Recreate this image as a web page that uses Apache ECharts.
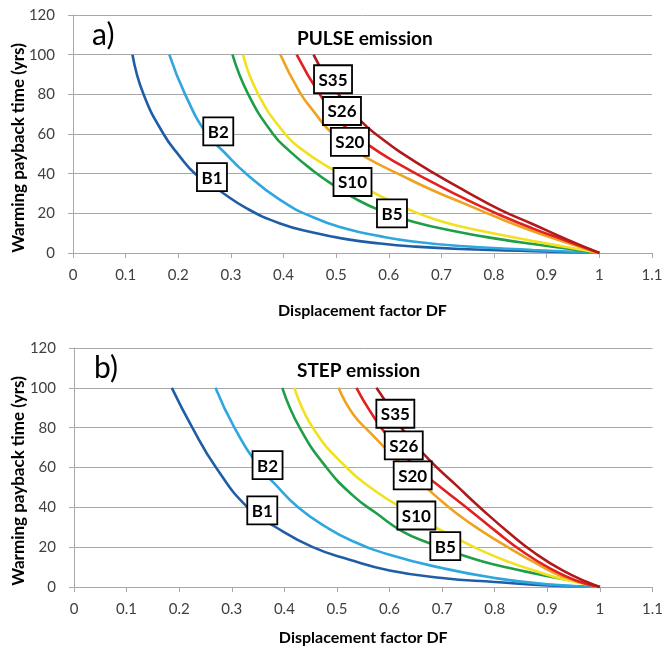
<!DOCTYPE html>
<html><head><meta charset="utf-8">
<script src="https://cdn.jsdelivr.net/npm/echarts@6/dist/echarts.min.js"></script>
<style>html,body{margin:0;padding:0;background:#fff}#c{width:666px;height:648px}</style>
</head><body><div id="c"></div>
<script>
// ---- data ----
const curveNames = ['B1', 'B2', 'B5', 'S10', 'S20', 'S26', 'S35'];

// PULSE emission: [displacement factor, payback time (yrs)]
const pulseB1  = [[0.113,100],[0.134,80],[0.172,60],[0.202,49],[0.232,40],[0.278,31.5],[0.33,22.5],[0.392,15],[0.456,10.3],[0.519,7],[0.583,4.8],[0.646,3.3],[0.735,2],[0.874,0.9],[1,0]];
const pulseB2  = [[0.183,100],[0.213,80],[0.254,60],[0.284,51.7],[0.329,40],[0.392,27],[0.456,18],[0.519,12.2],[0.583,8.5],[0.646,5.8],[0.735,3.5],[0.874,1.5],[1,0]];
const pulseB5  = [[0.303,100],[0.333,80],[0.38,60],[0.411,51.5],[0.456,41.5],[0.5,33.3],[0.532,28],[0.583,21.5],[0.646,15.8],[0.735,10.5],[0.81,7],[0.874,4.5],[0.937,2.3],[1,0]];
const pulseS10 = [[0.323,100],[0.352,80],[0.403,60],[0.436,52],[0.487,43],[0.53,36.5],[0.567,31],[0.633,22.5],[0.684,17.3],[0.735,13.5],[0.81,9.3],[0.874,6],[0.937,3],[1,0]];
const pulseS20 = [[0.394,100],[0.431,81],[0.46,70.5],[0.486,62],[0.52,54.5],[0.558,48],[0.621,39.5],[0.684,31.5],[0.747,24.5],[0.81,17.5],[0.874,11],[0.937,5.3],[1,0]];
const pulseS26 = [[0.425,100],[0.47,79.5],[0.514,64.5],[0.561,54.5],[0.621,44.5],[0.684,35.5],[0.747,27],[0.81,19.3],[0.874,12.3],[0.937,6.2],[1,0]];
const pulseS35 = [[0.457,100],[0.48,89],[0.506,79.5],[0.549,66],[0.59,57],[0.621,51],[0.684,40.5],[0.747,31],[0.81,22],[0.874,14.5],[0.937,7],[1,0]];

// STEP emission
const stepB1  = [[0.186,100],[0.225,80],[0.27,60],[0.33,40],[0.384,30],[0.454,20],[0.524,13.7],[0.6,8.3],[0.7,4.5],[0.8,2.5],[0.9,0.8],[1,0]];
const stepB2  = [[0.269,100],[0.305,80],[0.353,60],[0.381,52],[0.426,40],[0.48,30],[0.53,23],[0.6,16.2],[0.7,9.5],[0.8,4.5],[0.9,1.3],[1,0]];
const stepB5  = [[0.396,100],[0.429,80],[0.48,60],[0.53,46],[0.575,37],[0.625,27.8],[0.676,22],[0.727,17],[0.777,12.8],[0.828,9.5],[0.878,6.7],[0.929,4],[0.967,2.3],[1,0]];
const stepS10 = [[0.419,100],[0.454,80],[0.518,60],[0.575,47.8],[0.625,39.5],[0.68,31],[0.727,24.5],[0.777,18],[0.828,12.5],[0.878,8],[0.929,4],[1,0]];
const stepS20 = [[0.503,100],[0.53,87],[0.565,77],[0.6,67.5],[0.64,57],[0.682,47],[0.727,37],[0.777,27.8],[0.828,19.5],[0.878,12],[0.929,5.3],[1,0]];
const stepS26 = [[0.537,100],[0.562,88.7],[0.6,74.5],[0.651,60],[0.7,49.5],[0.752,38.7],[0.803,27.8],[0.853,17.8],[0.904,9.5],[0.954,3.3],[1,0]];
const stepS35 = [[0.575,100],[0.6,90],[0.625,79],[0.676,63.7],[0.727,51],[0.777,38.7],[0.828,27],[0.878,16.7],[0.929,8.3],[0.98,2],[1,0]];

// label anchor points (data coords) for boxed curve labels
const pulseLabelAt = [[0.264,38.3],[0.276,61.3],[0.606,20],[0.531,35.8],[0.526,56],[0.511,71.6],[0.494,87.6]];
const stepLabelAt  = [[0.358,38.5],[0.368,61.2],[0.706,20.5],[0.651,35.9],[0.644,56],[0.627,71.1],[0.611,87]];

const panelTags = ['a)', 'b)'];
const panelTitles = ['PULSE emission', 'STEP emission'];
const xTitle = 'Displacement factor DF';
const yTitle = 'Warming payback time (yrs)';

// ---- styling ----
const colors = ['#1f5ea6', '#2ea6de', '#1f9e48', '#f2e11e', '#f0a11e', '#e2201f', '#b01a1c'];
const FONT = 'Lato';
const GRID_C = '#a8a8a8';

const pulseData = [pulseB1, pulseB2, pulseB5, pulseS10, pulseS20, pulseS26, pulseS35];
const stepData = [stepB1, stepB2, stepB5, stepS10, stepS20, stepS26, stepS35];

function xAxisCfg(gi) {
  return {
    type: 'value', gridIndex: gi, min: 0, max: 1.1, interval: 0.1,
    axisLine: { show: true, onZero: false, lineStyle: { color: GRID_C, width: 1 } },
    axisTick: { show: true, length: 5, lineStyle: { color: GRID_C } },
    axisLabel: { fontFamily: FONT, fontSize: 15, color: '#404040', margin: 15,
      formatter: v => String(+v.toFixed(1)) },
    splitLine: { show: false },
    name: xTitle, nameLocation: 'middle', nameGap: gi === 0 ? 50 : 43, nameMoveOverlap: false,
    nameTextStyle: { fontFamily: FONT, fontWeight: 'bold', fontSize: 16, color: '#000', lineHeight: 16 }
  };
}
function yAxisCfg(gi) {
  return {
    type: 'value', gridIndex: gi, min: 0, max: 120, interval: 20,
    axisLine: { show: true, lineStyle: { color: GRID_C, width: 1 } },
    axisTick: { show: true, length: 5, lineStyle: { color: GRID_C } },
    axisLabel: { fontFamily: FONT, fontSize: 15, color: '#404040', margin: 18 },
    splitLine: { show: true, lineStyle: { color: GRID_C, width: 1 } }
  };
}

function renderLabelBox(params, api) {
  const p = api.coord([api.value(0), api.value(1)]);
  const txt = curveNames[params.dataIndex];
  const w = txt.length === 2 ? 30 : 38, h = 28;
  return {
    type: 'group', x: p[0], y: p[1],
    children: [
      { type: 'rect', shape: { x: -w / 2, y: -h / 2, width: w, height: h },
        style: { fill: '#fff', stroke: '#000', lineWidth: 1.8 } },
      { type: 'text', x: 0, y: 1,
        style: { text: txt, font: 'bold 17px ' + FONT, fill: '#000', align: 'center', verticalAlign: 'middle' } }
    ]
  };
}

const series = [];
[pulseData, stepData].forEach((set, gi) => {
  set.forEach((d, i) => {
    series.push({
      type: 'line', name: curveNames[i], xAxisIndex: gi, yAxisIndex: gi,
      data: d, smooth: 0.5, showSymbol: false, symbol: 'none',
      lineStyle: { color: colors[i], width: 2.6 }, itemStyle: { color: colors[i] },
      z: 2 + i
    });
  });
  series.push({
    type: 'custom', xAxisIndex: gi, yAxisIndex: gi, z: 20, silent: true,
    data: gi === 0 ? pulseLabelAt : stepLabelAt,
    renderItem: renderLabelBox
  });
});

const graphics = [];
[0, 1].forEach(gi => {
  const dy = gi === 0 ? 0 : 333;
  graphics.push({ type: 'text', x: 92 + gi * 2, y: 35 + dy,
    style: { text: panelTags[gi], font: '30px ' + FONT, fill: '#000', verticalAlign: 'middle' } });
  graphics.push({ type: 'text', x: 297, y: 39 + dy - (gi ? 1 : 0),
    style: { text: panelTitles[gi], font: 'bold 19px ' + FONT, fill: '#000', verticalAlign: 'middle' } });
  graphics.push({ type: 'text', x: 19, y: 148 + dy, rotation: Math.PI / 2,
    style: { text: yTitle, font: 'bold 17px ' + FONT, fill: '#000', align: 'center', verticalAlign: 'middle' } });
});

const chart = echarts.init(document.getElementById('c'));
chart.setOption({
  animation: false,
  backgroundColor: '#fff',
  grid: [
    { left: 73, top: 15, width: 579, height: 238 },
    { left: 74, top: 348, width: 579, height: 239 }
  ],
  xAxis: [xAxisCfg(0), xAxisCfg(1)],
  yAxis: [yAxisCfg(0), yAxisCfg(1)],
  series: series,
  graphic: graphics
});
</script>
</body></html>
